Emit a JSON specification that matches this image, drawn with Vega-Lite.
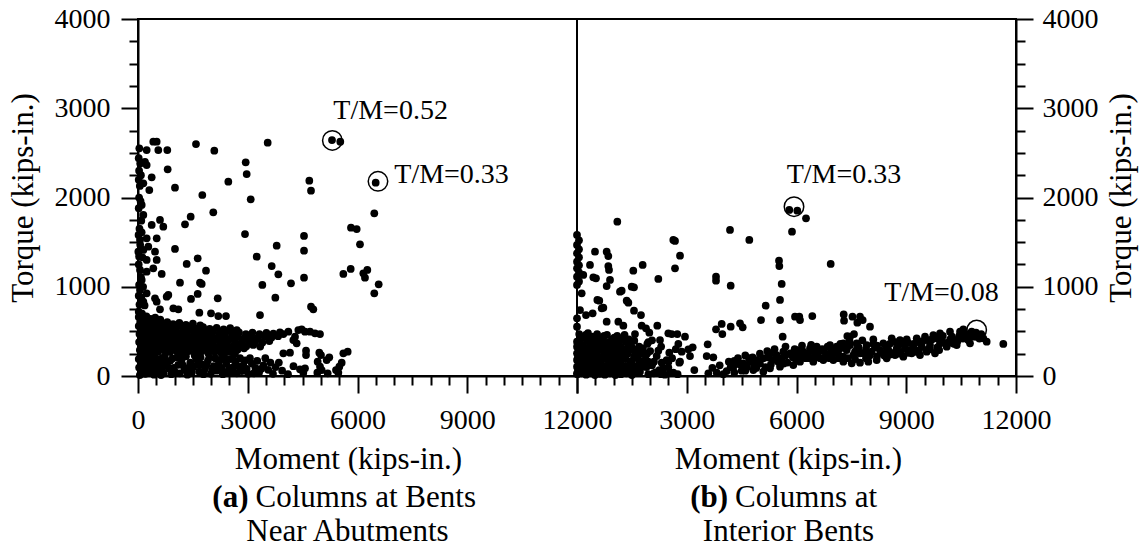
{
"$schema": "https://vega.github.io/schema/vega-lite/v6.json",
"width": 878, "height": 357,
"autosize": {"type": "none"},
"padding": {"left": 138, "top": 19, "right": 125, "bottom": 172},
"background": "white",
"config": {
 "font": "Liberation Serif",
 "view": {"stroke": "black", "strokeWidth": 2},
 "axis": {"domainColor": "black", "domainWidth": 2, "tickColor": "black", "tickWidth": 2, "labelColor": "black", "labelFontSize": 28, "labelFont": "Liberation Serif", "titleFont": "Liberation Serif", "titleFontSize": 31, "titleFontWeight": "normal", "titleColor": "black", "grid": false, "labelOverlap": false, "labelFlush": false, "format": "d"},
 "text": {"font": "Liberation Serif", "fontSize": 28, "color": "black"}
},
"datasets": {
 "left": [
{"M":36,"T":2551},{"M":237,"T":2532},{"M":418,"T":2625},{"M":511,"T":2625},{"M":555,"T":2532},{"M":801,"T":2532},{"M":191,"T":2398},{"M":237,"T":2364},{"M":811,"T":2316},{"M":374,"T":2226},{"M":146,"T":2159},{"M":1011,"T":2110},{"M":309,"T":2084},{"M":1585,"T":2599},{"M":2086,"T":2524},{"M":1758,"T":2028},{"M":2944,"T":2394},{"M":2971,"T":2263},{"M":2469,"T":2177},{"M":3545,"T":2614},{"M":3081,"T":1980},{"M":101,"T":1916},{"M":146,"T":1804},{"M":374,"T":1692},{"M":601,"T":1748},{"M":692,"T":1673},{"M":2058,"T":1834},{"M":1285,"T":1700},{"M":1440,"T":1785},{"M":2925,"T":1591},{"M":55,"T":1524},{"M":237,"T":1543},{"M":282,"T":1449},{"M":511,"T":1543},{"M":9,"T":1393},{"M":146,"T":1412},{"M":237,"T":1300},{"M":465,"T":1393},{"M":511,"T":1300},{"M":1011,"T":1423},{"M":1632,"T":1318},{"M":1331,"T":1255},{"M":1859,"T":1180},{"M":1695,"T":1045},{"M":1741,"T":1031},{"M":1148,"T":1045},{"M":648,"T":1143},{"M":55,"T":1188},{"M":101,"T":1076},{"M":237,"T":1169},{"M":418,"T":1207},{"M":3245,"T":1337},{"M":3791,"T":1460},{"M":3655,"T":1232},{"M":3836,"T":1139},{"M":3399,"T":1020},{"M":4182,"T":1039},{"M":3754,"T":877},{"M":55,"T":964},{"M":237,"T":927},{"M":146,"T":832},{"M":465,"T":871},{"M":511,"T":832},{"M":829,"T":908},{"M":784,"T":889},{"M":1632,"T":919},{"M":1449,"T":863},{"M":2179,"T":871},{"M":601,"T":747},{"M":966,"T":758},{"M":1102,"T":747},{"M":1677,"T":710},{"M":1996,"T":703},{"M":2195,"T":672},{"M":2405,"T":672},{"M":3335,"T":683},{"M":4683,"T":2188},{"M":4729,"T":2076},{"M":6497,"T":2166},{"M":6459,"T":1823},{"M":5822,"T":1662},{"M":5978,"T":1647},{"M":6068,"T":1475},{"M":4538,"T":1569},{"M":4538,"T":1404},{"M":4538,"T":1101},{"M":5613,"T":1143},{"M":5814,"T":1199},{"M":6159,"T":1151},{"M":6204,"T":1101},{"M":6268,"T":1188},{"M":6579,"T":1027},{"M":6459,"T":927},{"M":4729,"T":776},{"M":4792,"T":747},{"M":5303,"T":2644},{"M":5530,"T":2625},
{"M":20,"T":2440},{"M":60,"T":2380},{"M":30,"T":2300},{"M":80,"T":2250},{"M":20,"T":2200},{"M":50,"T":2130},{"M":30,"T":2000},{"M":70,"T":1960},{"M":20,"T":1880},{"M":90,"T":1740},{"M":40,"T":1650},{"M":15,"T":1580},{"M":100,"T":1610},{"M":60,"T":1470},{"M":30,"T":1340},{"M":120,"T":1330},{"M":20,"T":1250},{"M":80,"T":1110},{"M":30,"T":1020},{"M":140,"T":1000},{"M":20,"T":900},{"M":90,"T":880},{"M":40,"T":800},{"M":180,"T":790},{"M":20,"T":720},{"M":110,"T":700},
{"M":20,"T":660},{"M":110,"T":645},{"M":230,"T":668},{"M":350,"T":640},{"M":470,"T":655},{"M":610,"T":632},
{"M":60,"T":605},{"M":190,"T":592},{"M":330,"T":610},{"M":470,"T":598},{"M":640,"T":588},{"M":800,"T":604},{"M":960,"T":580},{"M":1130,"T":595},{"M":1310,"T":572},{"M":1500,"T":588},{"M":1700,"T":566},
{"M":20,"T":560},{"M":150,"T":548},{"M":290,"T":566},{"M":430,"T":552},{"M":590,"T":540},{"M":750,"T":558},{"M":910,"T":545},{"M":1080,"T":560},{"M":1250,"T":538},{"M":1420,"T":552},{"M":1600,"T":530},{"M":1780,"T":548},{"M":1960,"T":527},{"M":2150,"T":540},{"M":2340,"T":522},{"M":2520,"T":536},{"M":2700,"T":515},
{"M":90,"T":515},{"M":240,"T":502},{"M":400,"T":520},{"M":560,"T":498},{"M":710,"T":512},{"M":870,"T":495},{"M":1030,"T":508},{"M":1190,"T":490},{"M":1360,"T":505},{"M":1530,"T":486},{"M":1700,"T":500},{"M":1880,"T":482},{"M":2050,"T":497},{"M":2230,"T":478},{"M":2400,"T":492},{"M":2580,"T":475},{"M":2760,"T":490},{"M":2950,"T":470},{"M":3130,"T":486},{"M":3320,"T":468},{"M":3510,"T":482},{"M":3700,"T":474},{"M":3880,"T":488},
{"M":40,"T":470},{"M":190,"T":458},{"M":350,"T":475},{"M":510,"T":452},{"M":660,"T":468},{"M":820,"T":447},{"M":980,"T":462},{"M":1150,"T":444},{"M":1320,"T":460},{"M":1490,"T":440},{"M":1660,"T":456},{"M":1830,"T":437},{"M":2010,"T":452},{"M":2190,"T":434},{"M":2370,"T":449},{"M":2550,"T":430},{"M":2730,"T":446},{"M":2910,"T":428},{"M":3090,"T":443},{"M":3270,"T":425},{"M":3460,"T":441},{"M":3650,"T":430},{"M":3830,"T":446},
{"M":110,"T":425},{"M":280,"T":412},{"M":440,"T":428},{"M":600,"T":405},{"M":760,"T":420},{"M":920,"T":400},{"M":1090,"T":416},{"M":1260,"T":396},{"M":1430,"T":412},{"M":1600,"T":392},{"M":1770,"T":408},{"M":1940,"T":388},{"M":2120,"T":404},{"M":2300,"T":385},{"M":2480,"T":400},{"M":2660,"T":382},{"M":2850,"T":397},{"M":3030,"T":380},{"M":3210,"T":395},{"M":3400,"T":376},{"M":3590,"T":392},
{"M":30,"T":380},{"M":200,"T":366},{"M":370,"T":384},{"M":530,"T":360},{"M":690,"T":376},{"M":850,"T":356},{"M":1010,"T":372},{"M":1180,"T":352},{"M":1350,"T":368},{"M":1520,"T":348},{"M":1700,"T":364},{"M":1870,"T":344},{"M":2050,"T":360},{"M":2230,"T":340},{"M":2410,"T":356},{"M":2600,"T":336},{"M":2780,"T":352},{"M":2960,"T":334},{"M":3150,"T":348},{"M":3340,"T":330},
{"M":120,"T":335},{"M":290,"T":320},{"M":460,"T":338},{"M":620,"T":316},{"M":780,"T":332},{"M":950,"T":312},{"M":1110,"T":328},{"M":1280,"T":308},{"M":1450,"T":324},{"M":1630,"T":304},{"M":1800,"T":320},{"M":1990,"T":300},{"M":2170,"T":316},{"M":2350,"T":298},{"M":2540,"T":312},{"M":2720,"T":294},{"M":2900,"T":310},
{"M":50,"T":290},{"M":210,"T":276},{"M":380,"T":294},{"M":550,"T":272},{"M":720,"T":288},{"M":880,"T":268},{"M":1050,"T":284},{"M":1220,"T":264},{"M":1390,"T":280},{"M":1570,"T":262},{"M":1740,"T":276},{"M":1920,"T":258},{"M":2100,"T":272},{"M":2280,"T":256},{"M":2470,"T":270},{"M":2650,"T":252},
{"M":3973,"T":470},{"M":4110,"T":496},{"M":4292,"T":440},{"M":4383,"T":515},{"M":4474,"T":523},{"M":4565,"T":496},{"M":4702,"T":496},{"M":4839,"T":478},{"M":4975,"T":470},{"M":4246,"T":403},{"M":4337,"T":366},{"M":3973,"T":254},{"M":4155,"T":261},{"M":4593,"T":284},{"M":4593,"T":235},{"M":4956,"T":261},{"M":5002,"T":235},{"M":5229,"T":209},{"M":5157,"T":179},{"M":5613,"T":254},{"M":5732,"T":272},{"M":5568,"T":149},{"M":5503,"T":104},{"M":5412,"T":67},{"M":4428,"T":75},{"M":4565,"T":86},{"M":4519,"T":37},{"M":4911,"T":160},{"M":4975,"T":104},{"M":4902,"T":37},{"M":5185,"T":30},{"M":5021,"T":67},{"M":5476,"T":37},
{"M":20,"T":190},{"M":90,"T":160},{"M":160,"T":205},{"M":230,"T":130},{"M":310,"T":180},{"M":400,"T":150},{"M":480,"T":110},{"M":560,"T":185},{"M":30,"T":95},{"M":120,"T":60},{"M":200,"T":25},{"M":270,"T":90},{"M":360,"T":45},{"M":440,"T":15},{"M":530,"T":70},{"M":610,"T":120},{"M":50,"T":10},{"M":170,"T":115},{"M":390,"T":95},{"M":660,"T":200},{"M":700,"T":30},{"M":770,"T":150},{"M":850,"T":85},{"M":940,"T":195},{"M":1020,"T":40},{"M":1100,"T":125},{"M":1190,"T":175},{"M":1270,"T":70},{"M":1350,"T":15},{"M":1430,"T":150},{"M":1510,"T":100},{"M":1590,"T":190},{"M":1670,"T":50},{"M":1750,"T":130},{"M":1830,"T":80},{"M":1910,"T":170},{"M":1990,"T":25},{"M":2070,"T":110},{"M":2150,"T":60},{"M":2240,"T":180},{"M":2320,"T":20},{"M":2410,"T":140},{"M":2490,"T":90},{"M":2570,"T":40},{"M":2660,"T":160},{"M":2750,"T":110},{"M":2840,"T":55},{"M":2930,"T":175},{"M":3010,"T":25},{"M":3110,"T":140},{"M":3210,"T":90},{"M":3310,"T":40},{"M":3430,"T":120},{"M":3560,"T":70},{"M":3690,"T":25},{"M":3850,"T":150},{"M":3940,"T":60},{"M":4100,"T":20},{"M":4250,"T":110},
{"M":70,"T":225},{"M":140,"T":140},{"M":250,"T":170},{"M":330,"T":60},{"M":420,"T":200},{"M":500,"T":35},{"M":590,"T":150},{"M":650,"T":80},{"M":730,"T":220},{"M":800,"T":110},{"M":880,"T":170},{"M":980,"T":90},{"M":1060,"T":210},{"M":1140,"T":30},{"M":1230,"T":120},{"M":1310,"T":220},{"M":1390,"T":90},{"M":1470,"T":40},{"M":1550,"T":230},{"M":1630,"T":130},{"M":1710,"T":210},{"M":1790,"T":20},{"M":1870,"T":120},{"M":1950,"T":210},{"M":2030,"T":70},{"M":2110,"T":200},{"M":2200,"T":130},{"M":2280,"T":90},{"M":2360,"T":210},{"M":2450,"T":50},{"M":2530,"T":190},{"M":2610,"T":100},{"M":2700,"T":30},{"M":2790,"T":200},{"M":2880,"T":120},{"M":2970,"T":80},{"M":3060,"T":200},{"M":3160,"T":30},{"M":3260,"T":170},{"M":3370,"T":80},{"M":3480,"T":200},{"M":3620,"T":150},{"M":3760,"T":100},{"M":80,"T":50},{"M":210,"T":110},{"M":290,"T":230},{"M":460,"T":240},{"M":630,"T":10},{"M":910,"T":20},{"M":1160,"T":230},{"M":2620,"T":240}
 ],
 "right": [
{"M":0,"T":1580},{"M":0,"T":1468},{"M":0,"T":1375},{"M":0,"T":1281},{"M":0,"T":1207},{"M":0,"T":1113},{"M":0,"T":1020},{"M":0,"T":646},{"M":0,"T":552},{"M":0,"T":384},{"M":0,"T":328},{"M":0,"T":254},{"M":0,"T":179},{"M":0,"T":104},{"M":0,"T":30},
{"M":55,"T":1520},{"M":55,"T":1420},{"M":55,"T":1330},{"M":55,"T":1240},{"M":55,"T":1160},{"M":55,"T":1060},
{"M":5803,"T":1860},{"M":6022,"T":1852},{"M":6260,"T":1767},{"M":5877,"T":1617},{"M":1102,"T":1729},{"M":4182,"T":1636},{"M":4710,"T":1524},{"M":6935,"T":1255},{"M":2633,"T":1524},{"M":2679,"T":1513},{"M":2816,"T":1348},{"M":2679,"T":1207},{"M":2223,"T":1087},{"M":492,"T":1393},{"M":811,"T":1393},{"M":856,"T":1344},{"M":856,"T":1232},{"M":875,"T":1188},{"M":355,"T":1244},{"M":172,"T":1132},{"M":446,"T":1106},{"M":519,"T":1095},{"M":902,"T":1076},{"M":811,"T":1008},{"M":1539,"T":1180},{"M":1795,"T":1244},{"M":1221,"T":956},{"M":1175,"T":945},{"M":1495,"T":1001},{"M":1558,"T":994},{"M":128,"T":927},{"M":556,"T":852},{"M":610,"T":844},{"M":675,"T":758},{"M":720,"T":765},{"M":1358,"T":844},{"M":1404,"T":821},{"M":1558,"T":732},{"M":1749,"T":683},{"M":82,"T":739},{"M":246,"T":683},{"M":428,"T":702},{"M":811,"T":608},{"M":1130,"T":608},{"M":1267,"T":564},{"M":1768,"T":564},{"M":1886,"T":534},{"M":1977,"T":485},{"M":2195,"T":564},{"M":1585,"T":470},{"M":1567,"T":396},{"M":2269,"T":403},{"M":2496,"T":478},{"M":2588,"T":470},{"M":2742,"T":470},{"M":2952,"T":440},{"M":3800,"T":1113},{"M":3800,"T":1068},{"M":4201,"T":1012},{"M":3955,"T":583},{"M":3973,"T":470},{"M":3800,"T":523},{"M":4201,"T":553},{"M":4456,"T":590},{"M":4529,"T":545},{"M":5522,"T":1292},{"M":5531,"T":1232},{"M":5595,"T":1031},{"M":5549,"T":852},{"M":5157,"T":788},{"M":5030,"T":627},{"M":5549,"T":627},{"M":5959,"T":665},{"M":6096,"T":627},{"M":6077,"T":665},{"M":6432,"T":672},{"M":5622,"T":440},{"M":7290,"T":690},{"M":7530,"T":665},{"M":7736,"T":665},{"M":7300,"T":620},{"M":7663,"T":597},{"M":7809,"T":627},{"M":8009,"T":553},{"M":7389,"T":448},{"M":7572,"T":470},{"M":3572,"T":355},{"M":3545,"T":224},{"M":3726,"T":209},{"M":3207,"T":67},{"M":2816,"T":160},{"M":2797,"T":149},{"M":2633,"T":37},{"M":3043,"T":299},{"M":3162,"T":322},{"M":3089,"T":224},{"M":2770,"T":359},{"M":2862,"T":272},{"M":2523,"T":261},{"M":2451,"T":179},{"M":2315,"T":149},{"M":2223,"T":284},{"M":2178,"T":224},{"M":2105,"T":160},{"M":1922,"T":254},{"M":1886,"T":235},{"M":1950,"T":160},{"M":1813,"T":104},{"M":1722,"T":48},{"M":2250,"T":67},{"M":2359,"T":86},{"M":2496,"T":97},{"M":1922,"T":359},
{"M":3590,"T":30},{"M":3818,"T":37},{"M":4091,"T":56},{"M":4273,"T":104},{"M":4365,"T":160},{"M":4546,"T":142},{"M":4729,"T":160},{"M":4911,"T":179},{"M":5093,"T":198},{"M":5276,"T":254},{"M":5458,"T":235},{"M":5640,"T":272},{"M":5822,"T":254},{"M":6005,"T":291},{"M":6186,"T":272},{"M":6369,"T":310},{"M":6552,"T":328},{"M":6733,"T":291},{"M":6916,"T":347},{"M":7099,"T":328},{"M":7280,"T":366},{"M":7462,"T":347},{"M":7645,"T":366},
{"M":4502,"T":60},{"M":4820,"T":67},{"M":5093,"T":48},{"M":5276,"T":86},{"M":5549,"T":104},{"M":5913,"T":123},{"M":6096,"T":160},{"M":6459,"T":160},{"M":6733,"T":179},{"M":7006,"T":179},{"M":7280,"T":216},{"M":7553,"T":235},{"M":7736,"T":254},
{"M":10196,"T":496},{"M":9923,"T":478},{"M":9740,"T":459},{"M":9513,"T":440},{"M":9286,"T":422},{"M":9013,"T":411},{"M":8829,"T":403},{"M":8602,"T":422},{"M":8373,"T":366},{"M":8099,"T":359},{"M":7919,"T":347},{"M":7462,"T":440},
{"M":9786,"T":254},{"M":9559,"T":272},{"M":9376,"T":235},{"M":9149,"T":254},{"M":8920,"T":216},{"M":8693,"T":235},{"M":8466,"T":198},{"M":8192,"T":179},{"M":7963,"T":160},{"M":7736,"T":149},{"M":7509,"T":142},{"M":7280,"T":160},
{"M":9923,"T":366},{"M":9649,"T":347},{"M":9422,"T":328},{"M":9193,"T":328},{"M":8966,"T":310},{"M":8739,"T":310},{"M":8510,"T":291},{"M":8283,"T":291},{"M":8055,"T":272},{"M":7826,"T":254},{"M":7599,"T":272},{"M":7372,"T":291},
{"M":10789,"T":496},{"M":10907,"T":485},{"M":11106,"T":422},{"M":11199,"T":384},{"M":11653,"T":359},{"M":10696,"T":403},{"M":10743,"T":366},{"M":10333,"T":403},{"M":10379,"T":347},{"M":10106,"T":328},{"M":10470,"T":496},{"M":10560,"T":523},
{"M":3700,"T":90},{"M":3900,"T":120},{"M":4000,"T":20},{"M":4150,"T":160},{"M":4300,"T":40},{"M":4400,"T":200},{"M":4600,"T":230},{"M":4650,"T":100},{"M":4800,"T":210},{"M":4850,"T":120},{"M":5000,"T":250},{"M":5000,"T":140},{"M":5150,"T":100},{"M":5200,"T":280},{"M":5350,"T":180},{"M":5400,"T":300},{"M":5500,"T":160},{"M":5600,"T":200},{"M":5700,"T":330},{"M":5750,"T":150},{"M":5900,"T":210},{"M":5950,"T":300},{"M":6100,"T":230},{"M":6150,"T":340},{"M":6250,"T":200},{"M":6300,"T":250},{"M":6400,"T":350},{"M":6500,"T":230},{"M":6600,"T":270},{"M":6650,"T":200},{"M":6800,"T":250},{"M":6850,"T":330},{"M":6950,"T":230},{"M":7050,"T":280},{"M":7150,"T":240},{"M":7200,"T":310},{"M":7400,"T":200},{"M":7450,"T":390},{"M":7700,"T":320},{"M":7800,"T":400},{"M":8000,"T":230},{"M":8100,"T":410},{"M":8150,"T":320},{"M":8350,"T":260},{"M":8400,"T":230},{"M":8550,"T":360},{"M":8600,"T":260},{"M":8800,"T":350},{"M":8850,"T":270},{"M":9050,"T":370},{"M":9100,"T":290},{"M":9300,"T":380},{"M":9350,"T":290},{"M":9600,"T":400},{"M":9650,"T":300},{"M":9850,"T":420},{"M":9900,"T":290},{"M":10000,"T":450},{"M":10050,"T":370},{"M":10250,"T":440},{"M":10300,"T":360},{"M":10550,"T":420},{"M":10600,"T":460},{"M":10850,"T":440},{"M":11000,"T":420},{"M":11050,"T":470},
{"M":4200,"T":100},{"M":4450,"T":130},{"M":4700,"T":200},{"M":4950,"T":170},{"M":5200,"T":210},{"M":5450,"T":200},{"M":5700,"T":230},{"M":5950,"T":250},{"M":6200,"T":260},{"M":6450,"T":280},{"M":6700,"T":300},{"M":6950,"T":300},{"M":7200,"T":360},{"M":7400,"T":330},{"M":7650,"T":300},{"M":7900,"T":300},{"M":8200,"T":340},{"M":8450,"T":330},{"M":8700,"T":380},{"M":8950,"T":370},{"M":9200,"T":360},{"M":9450,"T":390},{"M":9700,"T":410},{"M":9950,"T":420},{"M":10200,"T":410},{"M":10450,"T":450},{"M":10700,"T":470},{"M":4300,"T":170},{"M":4600,"T":60},{"M":4900,"T":90},{"M":5300,"T":130},{"M":5650,"T":140},{"M":6000,"T":180},{"M":6350,"T":200},{"M":6600,"T":210},{"M":6900,"T":200},{"M":7150,"T":200},{"M":7600,"T":190},{"M":7900,"T":200},{"M":8200,"T":220},{"M":8550,"T":240},{"M":8800,"T":250},{"M":9050,"T":260},{"M":9300,"T":270},{"M":9600,"T":300},{"M":9850,"T":320},{"M":10150,"T":370},{"M":10400,"T":390},{"M":10650,"T":420},
{"M":60,"T":470},{"M":180,"T":430},{"M":300,"T":480},{"M":420,"T":440},{"M":550,"T":470},{"M":680,"T":420},{"M":820,"T":460},{"M":960,"T":410},{"M":1100,"T":450},{"M":1250,"T":420},
{"M":30,"T":380},{"M":150,"T":350},{"M":280,"T":400},{"M":400,"T":330},{"M":520,"T":380},{"M":650,"T":340},{"M":790,"T":370},{"M":920,"T":320},{"M":1060,"T":360},{"M":1200,"T":330},{"M":1350,"T":380},{"M":1480,"T":340},
{"M":80,"T":290},{"M":210,"T":260},{"M":340,"T":300},{"M":470,"T":250},{"M":600,"T":290},{"M":740,"T":240},{"M":870,"T":280},{"M":1000,"T":230},{"M":1150,"T":270},{"M":1300,"T":240},{"M":1450,"T":290},{"M":1620,"T":260},{"M":1700,"T":330},
{"M":20,"T":200},{"M":140,"T":170},{"M":260,"T":210},{"M":390,"T":160},{"M":510,"T":200},{"M":640,"T":150},{"M":770,"T":190},{"M":900,"T":140},{"M":1040,"T":180},{"M":1180,"T":150},{"M":1330,"T":190},{"M":1500,"T":170},{"M":1650,"T":200},
{"M":60,"T":110},{"M":190,"T":80},{"M":320,"T":120},{"M":450,"T":70},{"M":580,"T":110},{"M":710,"T":60},{"M":850,"T":100},{"M":990,"T":50},{"M":1130,"T":90},{"M":1280,"T":60},{"M":1420,"T":100},{"M":1580,"T":40},
{"M":10,"T":20},{"M":130,"T":30},{"M":250,"T":15},{"M":370,"T":35},{"M":490,"T":10},{"M":620,"T":25},{"M":760,"T":15},{"M":900,"T":30},{"M":1050,"T":10},{"M":1200,"T":20},{"M":1350,"T":30},{"M":1500,"T":10},{"M":1950,"T":20},{"M":2100,"T":30},{"M":2400,"T":15},{"M":2500,"T":160},{"M":2700,"T":300},{"M":2050,"T":400},{"M":2300,"T":330},{"M":2600,"T":200},
{"M":110,"T":420},{"M":240,"T":460},{"M":360,"T":390},{"M":480,"T":420},{"M":610,"T":390},{"M":740,"T":450},{"M":880,"T":380},{"M":1020,"T":430},{"M":1160,"T":390},{"M":1300,"T":460},{"M":1420,"T":410},
{"M":90,"T":330},{"M":220,"T":310},{"M":350,"T":350},{"M":460,"T":290},{"M":580,"T":330},{"M":700,"T":300},{"M":830,"T":330},{"M":970,"T":290},{"M":1100,"T":320},{"M":1250,"T":300},{"M":1400,"T":330},{"M":1550,"T":300},{"M":1800,"T":310},{"M":1950,"T":380},
{"M":30,"T":250},{"M":150,"T":230},{"M":290,"T":250},{"M":410,"T":210},{"M":550,"T":240},{"M":670,"T":210},{"M":800,"T":240},{"M":940,"T":200},{"M":1080,"T":230},{"M":1220,"T":210},{"M":1380,"T":250},{"M":1560,"T":220},{"M":1740,"T":250},{"M":2000,"T":280},
{"M":100,"T":140},{"M":220,"T":130},{"M":350,"T":160},{"M":470,"T":120},{"M":600,"T":150},{"M":730,"T":110},{"M":880,"T":150},{"M":1010,"T":120},{"M":1150,"T":140},{"M":1300,"T":110},{"M":1450,"T":140},{"M":1620,"T":110},{"M":1800,"T":170},
{"M":30,"T":60},{"M":150,"T":60},{"M":270,"T":70},{"M":400,"T":50},{"M":530,"T":60},{"M":660,"T":50},{"M":800,"T":60},{"M":940,"T":70},{"M":1080,"T":50},{"M":1230,"T":40},{"M":1400,"T":60},{"M":1550,"T":80},{"M":1700,"T":130},{"M":1900,"T":100},{"M":2050,"T":120},{"M":2150,"T":40},{"M":2300,"T":20},{"M":2550,"T":40},{"M":2750,"T":20}
 ],
 "ringsL": [{"M":5312,"T":2640},{"M":6560,"T":2181}],
 "ringsR": [{"M":5932,"T":1897},{"M":10925,"T":515}],
 "notesL": [
  {"M":5339,"T":2876,"label":"T/M=0.52","kind":"ann"},
  {"M":7006,"T":2162,"label":"T/M=0.33","kind":"ann"},
  {"M":3103,"T":-1367,"label":"(a)","kind":"bold"},
  {"M":3103,"T":-1367,"label":"Columns at Bents","kind":"rest"},
  {"M":5727,"T":-1748,"label":"Near Abutments","kind":"center"}
 ],
 "notesR": [
  {"M":5732,"T":2166,"label":"T/M=0.33","kind":"ann"},
  {"M":8400,"T":844,"label":"T/M=0.08","kind":"ann"},
  {"M":4210,"T":-1367,"label":"(b)","kind":"bold"},
  {"M":4210,"T":-1367,"label":"Columns at","kind":"rest"},
  {"M":5781,"T":-1748,"label":"Interior Bents","kind":"center"}
 ],
 "divider": [{"M":12000,"T":0,"T2":4000}]
},
"resolve": {"scale": {"x": "independent", "y": "independent"}},
"layer": [
 {
  "encoding": {
   "x": {"field": "M", "type": "quantitative",
    "scale": {"domain": [0, 12000], "range": [0, 439], "nice": false, "zero": false},
    "axis": {"orient": "bottom", "title": "Moment (kips-in.)", "values": [0,500,1000,1500,2000,2500,3000,3500,4000,4500,5000,5500,6000,6500,7000,7500,8000,8500,9000,9500,10000,10500,11000,11500,12000],
     "tickSize": {"condition": {"test": "datum.value % 3000 === 0", "value": 17}, "value": 9},
     "labelExpr": "datum.value % 3000 === 0 ? datum.label : ''", "labelPadding": 13, "titlePadding": 10, "titleX": 210}},
   "y": {"field": "T", "type": "quantitative",
    "scale": {"domain": [0, 4000], "nice": false, "zero": false},
    "axis": {"orient": "left", "title": "Torque (kips-in.)", "values": [0,250,500,750,1000,1250,1500,1750,2000,2250,2500,2750,3000,3250,3500,3750,4000],
     "tickSize": {"condition": {"test": "datum.value % 1000 === 0", "value": 17}, "value": 9},
     "labelExpr": "datum.value % 1000 === 0 ? datum.label : ''", "labelPadding": 11, "titlePadding": 15}}
  },
  "layer": [
   {"data": {"name": "left"}, "mark": {"type": "circle", "size": 60, "color": "black", "opacity": 1}},
   {"data": {"name": "ringsL"}, "mark": {"type": "point", "shape": "circle", "size": 380, "filled": false, "stroke": "black", "strokeWidth": 1.5, "opacity": 1}},
   {"data": {"name": "notesL"}, "transform": [{"filter": "datum.kind === 'ann'"}], "mark": {"type": "text", "align": "left", "baseline": "alphabetic"}, "encoding": {"text": {"field": "label"}}},
   {"data": {"name": "notesL"}, "transform": [{"filter": "datum.kind === 'bold'"}], "mark": {"type": "text", "align": "right", "baseline": "middle", "fontWeight": "bold", "fontSize": 31, "dx": -3}, "encoding": {"text": {"field": "label"}}},
   {"data": {"name": "notesL"}, "transform": [{"filter": "datum.kind === 'rest'"}], "mark": {"type": "text", "align": "left", "baseline": "middle", "fontSize": 31, "dx": 4}, "encoding": {"text": {"field": "label"}}},
   {"data": {"name": "notesL"}, "transform": [{"filter": "datum.kind === 'center'"}], "mark": {"type": "text", "align": "center", "baseline": "middle", "fontSize": 31}, "encoding": {"text": {"field": "label"}}},
   {"data": {"name": "divider"}, "mark": {"type": "rule", "color": "black", "strokeWidth": 2}, "encoding": {"y2": {"field": "T2"}}}
  ]
 },
 {
  "encoding": {
   "x": {"field": "M", "type": "quantitative",
    "scale": {"domain": [0, 12000], "range": [439, 878], "nice": false, "zero": false},
    "axis": {"orient": "bottom", "title": "Moment (kips-in.)", "values": [0,500,1000,1500,2000,2500,3000,3500,4000,4500,5000,5500,6000,6500,7000,7500,8000,8500,9000,9500,10000,10500,11000,11500,12000],
     "tickSize": {"condition": {"test": "datum.value % 3000 === 0", "value": 17}, "value": 9},
     "labelExpr": "datum.value % 3000 === 0 && datum.value > 0 ? datum.label : ''", "labelPadding": 13, "titlePadding": 10, "titleX": 650}},
   "y": {"field": "T", "type": "quantitative",
    "scale": {"domain": [0, 4000], "nice": false, "zero": false},
    "axis": {"orient": "right", "title": "Torque (kips-in.)", "values": [0,250,500,750,1000,1250,1500,1750,2000,2250,2500,2750,3000,3250,3500,3750,4000],
     "tickSize": {"condition": {"test": "datum.value % 1000 === 0", "value": 17}, "value": 9},
     "labelExpr": "datum.value % 1000 === 0 ? datum.label : ''", "labelPadding": 9, "titlePadding": 8, "titleAngle": 270, "titleBaseline": "top"}}
  },
  "layer": [
   {"data": {"name": "right"}, "mark": {"type": "circle", "size": 60, "color": "black", "opacity": 1}},
   {"data": {"name": "ringsR"}, "mark": {"type": "point", "shape": "circle", "size": 380, "filled": false, "stroke": "black", "strokeWidth": 1.5, "opacity": 1}},
   {"data": {"name": "notesR"}, "transform": [{"filter": "datum.kind === 'ann'"}], "mark": {"type": "text", "align": "left", "baseline": "alphabetic"}, "encoding": {"text": {"field": "label"}}},
   {"data": {"name": "notesR"}, "transform": [{"filter": "datum.kind === 'bold'"}], "mark": {"type": "text", "align": "right", "baseline": "middle", "fontWeight": "bold", "fontSize": 31, "dx": -3}, "encoding": {"text": {"field": "label"}}},
   {"data": {"name": "notesR"}, "transform": [{"filter": "datum.kind === 'rest'"}], "mark": {"type": "text", "align": "left", "baseline": "middle", "fontSize": 31, "dx": 4}, "encoding": {"text": {"field": "label"}}},
   {"data": {"name": "notesR"}, "transform": [{"filter": "datum.kind === 'center'"}], "mark": {"type": "text", "align": "center", "baseline": "middle", "fontSize": 31}, "encoding": {"text": {"field": "label"}}}
  ]
 }
]
}
